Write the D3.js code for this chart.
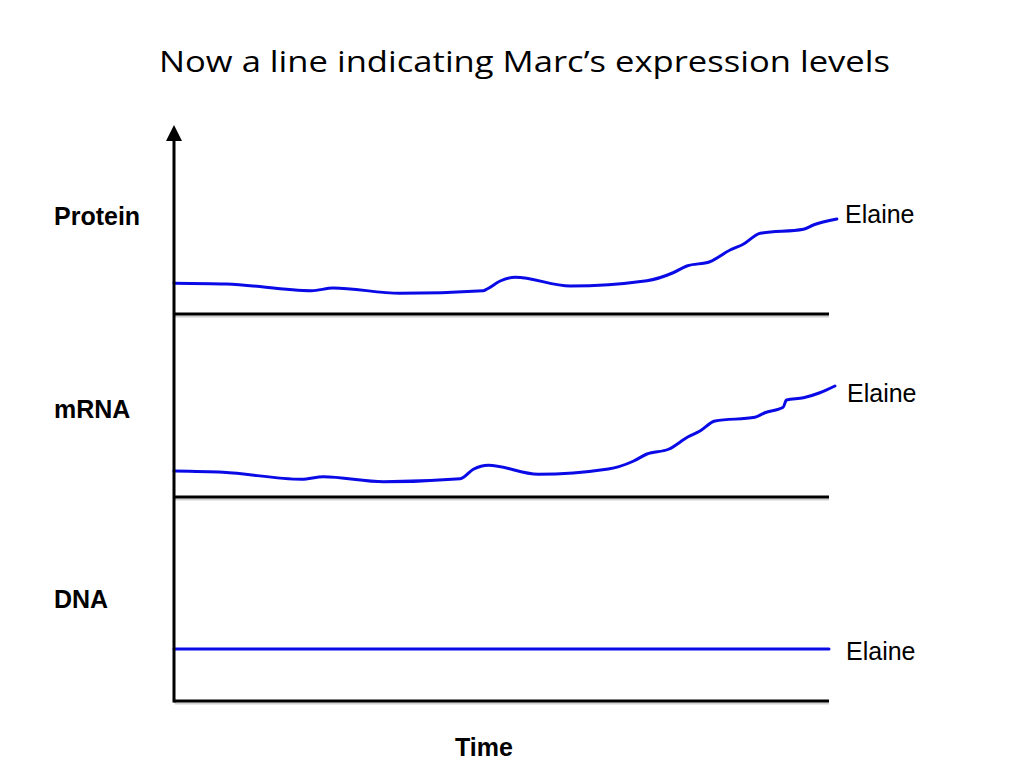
<!DOCTYPE html>
<html lang="en">
<head>
    <meta charset="UTF-8">
    <title>Marc expression levels</title>
    <style>
        body { margin: 0; background: white; }
        .title { font-family: "Open Sans", sans-serif; font-size: 29px; fill: black; }
        .rowLabel { font-family: "Liberation Sans", Arial, sans-serif; font-size: 25px; font-weight: 700; }
        .seriesLabel { font-family: "Liberation Sans", Arial, sans-serif; font-size: 25px; }
    </style>
</head>
<body>
    <div id="chart"></div>
    <script src="https://cdn.jsdelivr.net/npm/d3@7"></script>
    <script>
        // time axis 0..100, levels 0..100 inside each panel
        const proteinTime = [0, 8, 21, 24.3, 34.5, 47.2, 47.8, 49.8, 52.1, 60.5, 72.2, 76.2, 78.3, 81.8, 84.9, 86.9, 89.5, 96.1, 97.6, 101.2];
        const proteinLevel = [24.6, 24, 18.6, 20.8, 16.6, 18.6, 20, 26.4, 29.4, 22.4, 26.6, 33, 38.4, 41.8, 51.2, 55.8, 64.6, 67.8, 71.2, 76];

        const mrnaTime = [0, 7.5, 19.5, 22.8, 32, 43.7, 45.7, 48, 55.6, 66.3, 70.1, 72.2, 75.5, 78.5, 80.3, 82.6, 88.7, 90.2, 93, 93.5, 96.1, 98.6, 100.9];
        const mrnaLevel = [20.8, 19.8, 14.2, 16.2, 12.2, 14.6, 22.2, 25.4, 18.2, 22.4, 28.6, 34.4, 38.2, 48.2, 52.8, 60.8, 63.8, 67.4, 71.8, 77.6, 79.4, 83.4, 88.8];

        const dnaTime = [0, 100];
        const dnaLevel = [41.6, 41.6];

        const rowNames = ["Protein", "mRNA", "DNA"];
        const seriesName = "Elaine";
        const titleText = "Now a line indicating Marc\u2019s expression levels";
        const xTitle = "Time";

        (() => {
            const width = 1024;
            const height = 768;

            const svg = d3.select("#chart").append("svg")
                .attr("width", width)
                .attr("height", height);

            const x = d3.scaleLinear().domain([0, 100]).range([174, 829]);

            // one panel per row, baseline at bottom
            const panels = [
                { name: rowNames[0], base: 314, t: proteinTime, v: proteinLevel, labelY: 225, endY: 223, endX: 845 },
                { name: rowNames[1], base: 497, t: mrnaTime, v: mrnaLevel, labelY: 418, endY: 402, endX: 847 },
                { name: rowNames[2], base: 701, t: dnaTime, v: dnaLevel, labelY: 608, endY: 660, endX: 846 }
            ];

            svg.append("text")
                .attr("class", "title")
                .attr("x", 159)
                .attr("y", 72)
                .attr("textLength", 731)
                .attr("lengthAdjust", "spacingAndGlyphs")
                .text(titleText);

            const line = d3.line().curve(d3.curveMonotoneX);

            panels.forEach(p => {
                const y = d3.scaleLinear().domain([0, 100]).range([p.base, p.base - 125]);

                // soft shadow under the baseline
                svg.append("line")
                    .attr("x1", x(0) + 1).attr("x2", x(100))
                    .attr("y1", p.base + 2.5).attr("y2", p.base + 2.5)
                    .attr("stroke", "#d0d0d0")
                    .attr("stroke-width", 2);

                svg.append("line")
                    .attr("x1", x(0)).attr("x2", x(100))
                    .attr("y1", p.base).attr("y2", p.base)
                    .attr("stroke", "black")
                    .attr("stroke-width", 3);

                svg.append("path")
                    .datum(p.t.map((d, i) => [x(d), y(p.v[i])]))
                    .attr("d", line)
                    .attr("fill", "none")
                    .attr("stroke", "#0a0ae6")
                    .attr("stroke-width", 3)
                    .attr("stroke-linecap", "round");

                svg.append("text")
                    .attr("class", "rowLabel")
                    .attr("x", 54)
                    .attr("y", p.labelY)
                    .text(p.name);

                svg.append("text")
                    .attr("class", "seriesLabel")
                    .attr("x", p.endX)
                    .attr("y", p.endY)
                    .text(seriesName);
            });

            // vertical axis with arrow
            svg.append("line")
                .attr("x1", x(0)).attr("x2", x(0))
                .attr("y1", 138).attr("y2", 702.5)
                .attr("stroke", "black")
                .attr("stroke-width", 3);

            svg.append("path")
                .attr("d", d3.line()([[x(0) - 8, 141], [x(0), 125], [x(0) + 8, 141]]) + "Z")
                .attr("fill", "black");

            svg.append("text")
                .attr("class", "rowLabel")
                .attr("x", 484)
                .attr("y", 756)
                .attr("text-anchor", "middle")
                .text(xTitle);
        })()
    </script>
</body>
</html>
